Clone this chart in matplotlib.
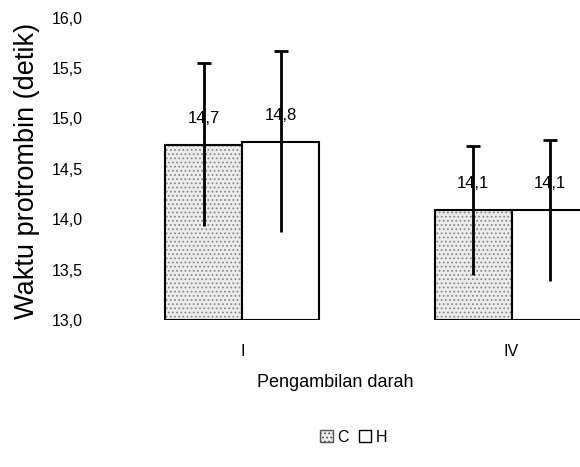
import numpy as np
import matplotlib
matplotlib.use("Agg")
import matplotlib.pyplot as plt
from matplotlib.patches import Patch

plt.rcParams["font.family"] = ["Liberation Sans", "DejaVu Sans"]
plt.rcParams["hatch.linewidth"] = 0.8

# data
groups = ["I", "IV"]
series = ["C", "H"]
mean_c = [14.74, 14.09]
mean_h = [14.77, 14.09]
sd_c = [0.81, 0.64]
sd_h = [0.90, 0.70]
yticks = [13.0, 13.5, 14.0, 14.5, 15.0, 15.5, 16.0]

fig = plt.figure(figsize=(5.8, 4.67), dpi=100)
# axes is wider than the figure: the original scan is cut on the right
ax = fig.add_axes([0.186, 0.315, 0.928, 0.647])

x = np.arange(len(groups))
w = 0.286
base = 13.0

# C bars: stippled grey fill, then black outline
ax.bar(x - w / 2, np.array(mean_c) - base, w, bottom=base, color="#ececec",
       hatch="....", edgecolor="#8a8a8a", linewidth=0)
ax.bar(x - w / 2, np.array(mean_c) - base, w, bottom=base, fill=False,
       edgecolor="black", linewidth=1.5)
ax.bar(x + w / 2, np.array(mean_h) - base, w, bottom=base, color="white",
       edgecolor="black", linewidth=1.5)

# error bars, cap on top only
for xs, m, s in [(x - w / 2, mean_c, sd_c), (x + w / 2, mean_h, sd_h)]:
    m = np.array(m)
    s = np.array(s)
    ax.vlines(xs, m - s, m + s, color="black", linewidth=2)
    ax.plot(xs, m + s, linestyle="none", marker="_", markersize=10,
            markeredgewidth=2, color="black")
    for xi, mi in zip(xs, m):
        ax.text(xi, mi + 0.26, f"{mi:.1f}".replace(".", ","), ha="center",
                va="center", fontsize=12)

ax.set_xlim(-0.5, 1.5)
ax.set_ylim(13.0, 16.0)
ax.set_yticks(yticks)
ax.set_yticklabels([f"{t:.1f}".replace(".", ",") for t in yticks], fontsize=11.5)
ax.set_xticks(x)
ax.set_xticklabels(groups, fontsize=11.5)
ax.tick_params(length=0)
ax.tick_params(axis="x", pad=17)
ax.tick_params(axis="y", pad=18)
for sp in ax.spines.values():
    sp.set_visible(False)

fig.text(0.047, 0.635, "Waktu protrombin (detik)", rotation=90, ha="center",
         va="center", fontsize=19.5)
fig.text(0.578, 0.180, "Pengambilan darah", ha="center", va="center",
         fontsize=13)

handles = [Patch(facecolor="#ececec", hatch="....", edgecolor="#555555", linewidth=1),
           Patch(facecolor="white", edgecolor="black", linewidth=1)]
fig.legend(handles, series, loc="center", bbox_to_anchor=(0.61, 0.064),
           ncol=2, frameon=False, fontsize=11.5, handlelength=0.8,
           handleheight=0.8, handletextpad=0.3, columnspacing=0.6)

fig.savefig("out.png", dpi=100)
